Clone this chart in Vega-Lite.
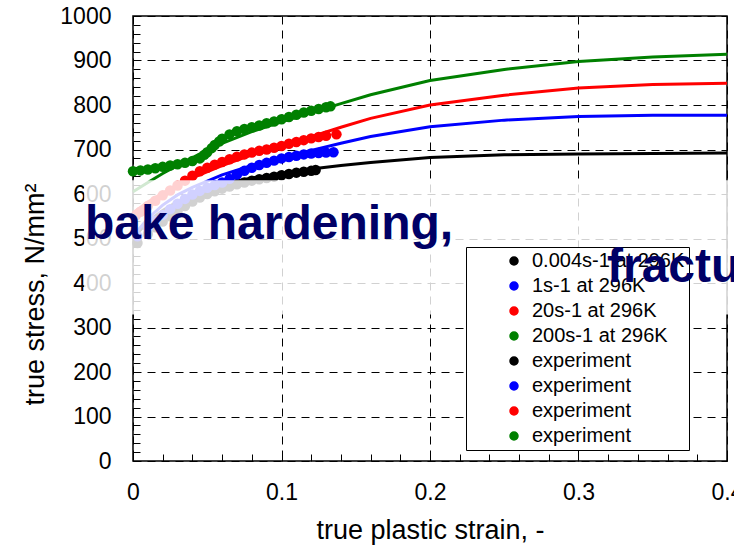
{
  "$schema": "https://vega.github.io/schema/vega-lite/v6.json",
  "autosize": "none",
  "width": 594,
  "height": 445,
  "padding": {"left": 133, "top": 16, "right": 7, "bottom": 88},
  "background": "white",
  "config": {
    "font": "Liberation Sans",
    "view": {"stroke": "black", "strokeWidth": 1.5},
    "axis": {
      "domain": false,
      "tickColor": "black",
      "tickSize": -7,
      "tickWidth": 1,
      "labelColor": "black",
      "labelFontSize": 23,
      "labelFont": "Liberation Sans",
      "titleFont": "Liberation Sans",
      "titleFontSize": 27,
      "titleFontWeight": "normal",
      "titleColor": "black",
      "gridColor": "black",
      "gridDash": [8, 6],
      "gridWidth": 1,
      "labelOverlap": false,
      "labelFlush": false
    }
  },
  "title": {
    "text": "fracture",
    "anchor": "start",
    "frame": "group",
    "orient": "top",
    "offset": 0,
    "dx": 474,
    "dy": 325,
    "baseline": "alphabetic",
    "fontSize": 48,
    "fontWeight": "bold",
    "color": "#000066",
    "font": "Liberation Sans"
  },
  "resolve": {"axis": {"x": "independent", "y": "independent"}},
  "layer": [
    {
      "data": {"values": [
        {"series": "0.004s-1 at 296K", "strain": 0, "stress": 500},
        {"series": "0.004s-1 at 296K", "strain": 0.01, "stress": 538},
        {"series": "0.004s-1 at 296K", "strain": 0.02, "stress": 563},
        {"series": "0.004s-1 at 296K", "strain": 0.03, "stress": 583},
        {"series": "0.004s-1 at 296K", "strain": 0.04, "stress": 600},
        {"series": "0.004s-1 at 296K", "strain": 0.06, "stress": 622},
        {"series": "0.004s-1 at 296K", "strain": 0.08, "stress": 636},
        {"series": "0.004s-1 at 296K", "strain": 0.1, "stress": 646},
        {"series": "0.004s-1 at 296K", "strain": 0.12, "stress": 656},
        {"series": "0.004s-1 at 296K", "strain": 0.14, "stress": 664},
        {"series": "0.004s-1 at 296K", "strain": 0.16, "stress": 671},
        {"series": "0.004s-1 at 296K", "strain": 0.2, "stress": 682},
        {"series": "0.004s-1 at 296K", "strain": 0.25, "stress": 688},
        {"series": "0.004s-1 at 296K", "strain": 0.3, "stress": 690},
        {"series": "0.004s-1 at 296K", "strain": 0.35, "stress": 691},
        {"series": "0.004s-1 at 296K", "strain": 0.4, "stress": 692},
        {"series": "1s-1 at 296K", "strain": 0, "stress": 505},
        {"series": "1s-1 at 296K", "strain": 0.01, "stress": 545},
        {"series": "1s-1 at 296K", "strain": 0.02, "stress": 575},
        {"series": "1s-1 at 296K", "strain": 0.03, "stress": 598},
        {"series": "1s-1 at 296K", "strain": 0.04, "stress": 615},
        {"series": "1s-1 at 296K", "strain": 0.06, "stress": 643},
        {"series": "1s-1 at 296K", "strain": 0.08, "stress": 664},
        {"series": "1s-1 at 296K", "strain": 0.1, "stress": 682},
        {"series": "1s-1 at 296K", "strain": 0.12, "stress": 698},
        {"series": "1s-1 at 296K", "strain": 0.14, "stress": 714},
        {"series": "1s-1 at 296K", "strain": 0.16, "stress": 729},
        {"series": "1s-1 at 296K", "strain": 0.2, "stress": 751},
        {"series": "1s-1 at 296K", "strain": 0.25, "stress": 766},
        {"series": "1s-1 at 296K", "strain": 0.3, "stress": 774},
        {"series": "1s-1 at 296K", "strain": 0.35, "stress": 777},
        {"series": "1s-1 at 296K", "strain": 0.4, "stress": 777},
        {"series": "20s-1 at 296K", "strain": 0, "stress": 558},
        {"series": "20s-1 at 296K", "strain": 0.01, "stress": 582},
        {"series": "20s-1 at 296K", "strain": 0.02, "stress": 602},
        {"series": "20s-1 at 296K", "strain": 0.03, "stress": 620},
        {"series": "20s-1 at 296K", "strain": 0.04, "stress": 636},
        {"series": "20s-1 at 296K", "strain": 0.06, "stress": 664},
        {"series": "20s-1 at 296K", "strain": 0.08, "stress": 688},
        {"series": "20s-1 at 296K", "strain": 0.1, "stress": 709},
        {"series": "20s-1 at 296K", "strain": 0.12, "stress": 729},
        {"series": "20s-1 at 296K", "strain": 0.14, "stress": 750},
        {"series": "20s-1 at 296K", "strain": 0.16, "stress": 770},
        {"series": "20s-1 at 296K", "strain": 0.2, "stress": 800},
        {"series": "20s-1 at 296K", "strain": 0.25, "stress": 822},
        {"series": "20s-1 at 296K", "strain": 0.3, "stress": 838},
        {"series": "20s-1 at 296K", "strain": 0.35, "stress": 846},
        {"series": "20s-1 at 296K", "strain": 0.4, "stress": 849},
        {"series": "200s-1 at 296K", "strain": 0, "stress": 605},
        {"series": "200s-1 at 296K", "strain": 0.01, "stress": 626},
        {"series": "200s-1 at 296K", "strain": 0.02, "stress": 646},
        {"series": "200s-1 at 296K", "strain": 0.03, "stress": 664},
        {"series": "200s-1 at 296K", "strain": 0.045, "stress": 690},
        {"series": "200s-1 at 296K", "strain": 0.06, "stress": 714},
        {"series": "200s-1 at 296K", "strain": 0.08, "stress": 740},
        {"series": "200s-1 at 296K", "strain": 0.1, "stress": 762},
        {"series": "200s-1 at 296K", "strain": 0.12, "stress": 783},
        {"series": "200s-1 at 296K", "strain": 0.14, "stress": 803},
        {"series": "200s-1 at 296K", "strain": 0.16, "stress": 823},
        {"series": "200s-1 at 296K", "strain": 0.2, "stress": 855},
        {"series": "200s-1 at 296K", "strain": 0.25, "stress": 880},
        {"series": "200s-1 at 296K", "strain": 0.3, "stress": 898},
        {"series": "200s-1 at 296K", "strain": 0.35, "stress": 908},
        {"series": "200s-1 at 296K", "strain": 0.4, "stress": 914}
      ]},
      "mark": {"type": "line", "strokeWidth": 3},
      "encoding": {
        "x": {
          "field": "strain",
          "type": "quantitative",
          "scale": {"domain": [0, 0.4], "nice": false, "zero": false},
          "title": "true plastic strain, -",
          "axis": {
            "orient": "bottom",
            "values": [0, 0.1, 0.2, 0.3, 0.4],
            "format": ".1~f",
            "labelPadding": 27,
            "grid": true,
            "titleBaseline": "alphabetic",
            "titleX": 297,
            "titleY": 77
          }
        },
        "y": {
          "field": "stress",
          "type": "quantitative",
          "scale": {"domain": [0, 1000], "nice": false, "zero": false},
          "title": "true stress, N/mm²",
          "axis": {
            "orient": "left",
            "values": [0, 100, 200, 300, 400, 500, 600, 700, 800, 900, 1000],
            "format": "d",
            "labelPadding": 29,
            "grid": true,
            "titleBaseline": "alphabetic",
            "titleX": -90,
            "titleY": 278
          }
        },
        "color": {
          "field": "series",
          "type": "nominal",
          "scale": {
            "domain": ["0.004s-1 at 296K", "1s-1 at 296K", "20s-1 at 296K", "200s-1 at 296K", "exp_black", "exp_blue", "exp_red", "exp_green"],
            "range": ["#000000", "#0000ff", "#ff0000", "#008000", "#000000", "#0000ff", "#ff0000", "#008000"]
          },
          "legend": {
            "orient": "none",
            "legendX": 333,
            "legendY": 231,
            "title": null,
            "labelFont": "Liberation Sans",
            "labelFontSize": 20,
            "labelColor": "black",
            "labelLimit": 300,
            "labelExpr": "indexof(datum.value,'exp')===0 ? 'experiment' : datum.label",
            "symbolType": "circle",
            "symbolSize": 64,
            "rowPadding": 5,
            "padding": 4,
            "symbolOffset": 34,
            "labelOffset": 8,
            "strokeColor": "black",
            "fillColor": "white"
          }
        }
      }
    },
    {
      "data": {"values": [
        {"series": "exp_black", "strain": 0.003, "stress": 490},
        {"series": "exp_black", "strain": 0.01, "stress": 510},
        {"series": "exp_black", "strain": 0.015, "stress": 525},
        {"series": "exp_black", "strain": 0.02, "stress": 538},
        {"series": "exp_black", "strain": 0.025, "stress": 550},
        {"series": "exp_black", "strain": 0.03, "stress": 562},
        {"series": "exp_black", "strain": 0.035, "stress": 573},
        {"series": "exp_black", "strain": 0.04, "stress": 583},
        {"series": "exp_black", "strain": 0.045, "stress": 592},
        {"series": "exp_black", "strain": 0.05, "stress": 600},
        {"series": "exp_black", "strain": 0.055, "stress": 606},
        {"series": "exp_black", "strain": 0.06, "stress": 612},
        {"series": "exp_black", "strain": 0.065, "stress": 617},
        {"series": "exp_black", "strain": 0.07, "stress": 622},
        {"series": "exp_black", "strain": 0.075, "stress": 626},
        {"series": "exp_black", "strain": 0.08, "stress": 630},
        {"series": "exp_black", "strain": 0.085, "stress": 633},
        {"series": "exp_black", "strain": 0.09, "stress": 636},
        {"series": "exp_black", "strain": 0.095, "stress": 639},
        {"series": "exp_black", "strain": 0.1, "stress": 642},
        {"series": "exp_black", "strain": 0.105, "stress": 645},
        {"series": "exp_black", "strain": 0.11, "stress": 648},
        {"series": "exp_black", "strain": 0.115, "stress": 650},
        {"series": "exp_black", "strain": 0.12, "stress": 652},
        {"series": "exp_black", "strain": 0.123, "stress": 654},
        {"series": "exp_blue", "strain": 0.003, "stress": 505},
        {"series": "exp_blue", "strain": 0.01, "stress": 525},
        {"series": "exp_blue", "strain": 0.015, "stress": 540},
        {"series": "exp_blue", "strain": 0.02, "stress": 553},
        {"series": "exp_blue", "strain": 0.025, "stress": 566},
        {"series": "exp_blue", "strain": 0.03, "stress": 578},
        {"series": "exp_blue", "strain": 0.035, "stress": 589},
        {"series": "exp_blue", "strain": 0.04, "stress": 599},
        {"series": "exp_blue", "strain": 0.045, "stress": 607},
        {"series": "exp_blue", "strain": 0.05, "stress": 614},
        {"series": "exp_blue", "strain": 0.055, "stress": 620},
        {"series": "exp_blue", "strain": 0.06, "stress": 626},
        {"series": "exp_blue", "strain": 0.065, "stress": 634},
        {"series": "exp_blue", "strain": 0.07, "stress": 644},
        {"series": "exp_blue", "strain": 0.075, "stress": 652},
        {"series": "exp_blue", "strain": 0.08, "stress": 659},
        {"series": "exp_blue", "strain": 0.085, "stress": 665},
        {"series": "exp_blue", "strain": 0.09, "stress": 670},
        {"series": "exp_blue", "strain": 0.095, "stress": 675},
        {"series": "exp_blue", "strain": 0.1, "stress": 680},
        {"series": "exp_blue", "strain": 0.105, "stress": 683},
        {"series": "exp_blue", "strain": 0.11, "stress": 686},
        {"series": "exp_blue", "strain": 0.115, "stress": 689},
        {"series": "exp_blue", "strain": 0.12, "stress": 691},
        {"series": "exp_blue", "strain": 0.125, "stress": 692},
        {"series": "exp_blue", "strain": 0.13, "stress": 693},
        {"series": "exp_blue", "strain": 0.135, "stress": 694},
        {"series": "exp_red", "strain": 0.002, "stress": 552},
        {"series": "exp_red", "strain": 0.005, "stress": 560},
        {"series": "exp_red", "strain": 0.01, "stress": 573},
        {"series": "exp_red", "strain": 0.015, "stress": 585},
        {"series": "exp_red", "strain": 0.02, "stress": 597},
        {"series": "exp_red", "strain": 0.025, "stress": 608},
        {"series": "exp_red", "strain": 0.03, "stress": 619},
        {"series": "exp_red", "strain": 0.035, "stress": 630},
        {"series": "exp_red", "strain": 0.04, "stress": 641},
        {"series": "exp_red", "strain": 0.045, "stress": 651},
        {"series": "exp_red", "strain": 0.05, "stress": 659},
        {"series": "exp_red", "strain": 0.055, "stress": 666},
        {"series": "exp_red", "strain": 0.06, "stress": 672},
        {"series": "exp_red", "strain": 0.065, "stress": 678},
        {"series": "exp_red", "strain": 0.07, "stress": 684},
        {"series": "exp_red", "strain": 0.075, "stress": 689},
        {"series": "exp_red", "strain": 0.08, "stress": 693},
        {"series": "exp_red", "strain": 0.085, "stress": 697},
        {"series": "exp_red", "strain": 0.09, "stress": 700},
        {"series": "exp_red", "strain": 0.095, "stress": 704},
        {"series": "exp_red", "strain": 0.1, "stress": 708},
        {"series": "exp_red", "strain": 0.105, "stress": 713},
        {"series": "exp_red", "strain": 0.11, "stress": 717},
        {"series": "exp_red", "strain": 0.115, "stress": 721},
        {"series": "exp_red", "strain": 0.12, "stress": 725},
        {"series": "exp_red", "strain": 0.125, "stress": 728},
        {"series": "exp_red", "strain": 0.13, "stress": 731},
        {"series": "exp_red", "strain": 0.137, "stress": 734},
        {"series": "exp_green", "strain": 0, "stress": 651},
        {"series": "exp_green", "strain": 0.005, "stress": 653},
        {"series": "exp_green", "strain": 0.01, "stress": 655},
        {"series": "exp_green", "strain": 0.015, "stress": 658},
        {"series": "exp_green", "strain": 0.02, "stress": 661},
        {"series": "exp_green", "strain": 0.025, "stress": 664},
        {"series": "exp_green", "strain": 0.03, "stress": 667},
        {"series": "exp_green", "strain": 0.035, "stress": 670},
        {"series": "exp_green", "strain": 0.04, "stress": 674},
        {"series": "exp_green", "strain": 0.045, "stress": 680},
        {"series": "exp_green", "strain": 0.048, "stress": 688},
        {"series": "exp_green", "strain": 0.05, "stress": 694},
        {"series": "exp_green", "strain": 0.053, "stress": 703},
        {"series": "exp_green", "strain": 0.055, "stress": 710},
        {"series": "exp_green", "strain": 0.058, "stress": 718},
        {"series": "exp_green", "strain": 0.06, "stress": 724},
        {"series": "exp_green", "strain": 0.065, "stress": 734},
        {"series": "exp_green", "strain": 0.07, "stress": 741},
        {"series": "exp_green", "strain": 0.075, "stress": 746},
        {"series": "exp_green", "strain": 0.08, "stress": 750},
        {"series": "exp_green", "strain": 0.085, "stress": 754},
        {"series": "exp_green", "strain": 0.09, "stress": 759},
        {"series": "exp_green", "strain": 0.095, "stress": 763},
        {"series": "exp_green", "strain": 0.1, "stress": 768},
        {"series": "exp_green", "strain": 0.105, "stress": 773},
        {"series": "exp_green", "strain": 0.11, "stress": 778},
        {"series": "exp_green", "strain": 0.115, "stress": 783},
        {"series": "exp_green", "strain": 0.12, "stress": 787},
        {"series": "exp_green", "strain": 0.125, "stress": 791},
        {"series": "exp_green", "strain": 0.13, "stress": 795},
        {"series": "exp_green", "strain": 0.133, "stress": 797}
      ]},
      "mark": {"type": "point", "filled": true, "opacity": 1},
      "encoding": {
        "x": {
          "field": "strain",
          "type": "quantitative",
          "axis": {"orient": "bottom", "values": [0.02, 0.04, 0.06, 0.08, 0.12, 0.14, 0.16, 0.18, 0.22, 0.24, 0.26, 0.28, 0.32, 0.34, 0.36, 0.38], "labels": false, "grid": false, "title": null}
        },
        "y": {
          "field": "stress",
          "type": "quantitative",
          "axis": {"orient": "left", "values": [20, 40, 60, 80, 120, 140, 160, 180, 220, 240, 260, 280, 320, 340, 360, 380, 420, 440, 460, 480, 520, 540, 560, 580, 620, 640, 660, 680, 720, 740, 760, 780, 820, 840, 860, 880, 920, 940, 960, 980], "labels": false, "grid": false, "title": null}
        },
        "color": {"field": "series", "type": "nominal"},
        "size": {"value": 110}
      }
    },
    {
      "data": {"values": [{"x0": -0.033, "x1": 0.41, "y0": 329, "y1": 631}]},
      "mark": {"type": "rect", "fill": "white", "opacity": 0.82, "clip": false},
      "encoding": {
        "x": {"field": "x0", "type": "quantitative", "axis": null},
        "x2": {"field": "x1"},
        "y": {"field": "y0", "type": "quantitative", "axis": null},
        "y2": {"field": "y1"}
      }
    },
    {
      "data": {"values": [{"label": "bake hardening,", "strain": -0.0323, "stress": 498}]},
      "mark": {"type": "text", "align": "left", "baseline": "alphabetic", "fontSize": 48, "fontWeight": "bold", "color": "#000066", "font": "Liberation Sans", "clip": false},
      "encoding": {
        "x": {"field": "strain", "type": "quantitative", "axis": null},
        "y": {"field": "stress", "type": "quantitative", "axis": null},
        "text": {"field": "label"}
      }
    }
  ]
}
